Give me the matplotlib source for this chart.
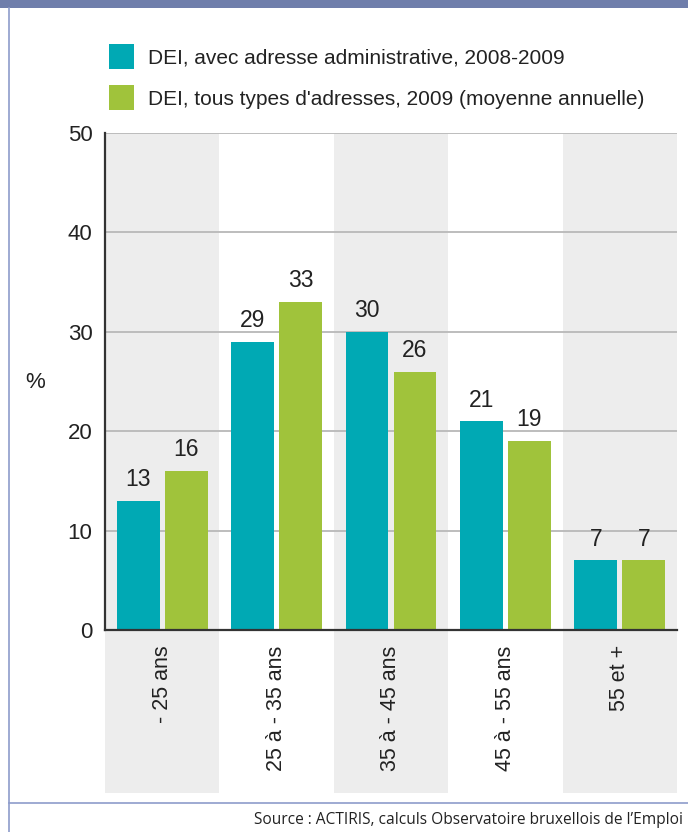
import matplotlib.pyplot as plt
from matplotlib.patches import Rectangle
from matplotlib.lines import Line2D
import numpy as np

# data
age_groups = ['- 25 ans', '25 à - 35 ans', '35 à - 45 ans', '45 à - 55 ans', '55 et +']
dei_admin = [13, 29, 30, 21, 7]
dei_all = [16, 33, 26, 19, 7]
series_labels = ['DEI, avec adresse administrative, 2008-2009',
                 "DEI, tous types d'adresses, 2009 (moyenne annuelle)"]

teal = '#00a9b4'
green = '#a0c33b'
band_grey = '#ededed'
frame_blue = '#8d9ccb'
ink = '#222222'

plt.rcParams['font.family'] = ['Liberation Sans', 'DejaVu Sans']

fig = plt.figure(figsize=(6.88, 8.32), dpi=100)
ax = fig.add_axes([105 / 688, 1 - 630 / 832, 572 / 688, 497 / 832])

x = np.arange(len(age_groups))
w = 0.375
off = 0.21
b1 = ax.bar(x - off, dei_admin, w, color=teal, zorder=3)
b2 = ax.bar(x + off, dei_all, w, color=green, zorder=3)

for bars, vals in ((b1, dei_admin), (b2, dei_all)):
    for r, v in zip(bars, vals):
        ax.annotate(str(v), (r.get_x() + r.get_width() / 2, v),
                    xytext=(0, 7), textcoords='offset points',
                    ha='center', va='bottom', fontsize=16.5, color=ink)

# alternating grey bands, running below the axis behind the labels
for i in range(0, len(age_groups), 2):
    ax.add_patch(Rectangle((i - 0.5, -16.4), 1.0, 66.4, facecolor=band_grey,
                           edgecolor='none', zorder=0, clip_on=False))

ax.set_xlim(-0.5, len(age_groups) - 0.5)
ax.set_ylim(0, 50)
ax.set_yticks(range(0, 51, 10))
ax.yaxis.grid(True, color='#b8b8b8', linewidth=1.3, zorder=1)
ax.set_axisbelow(True)
ax.set_facecolor('none')

ax.set_xticks(x)
ax.set_xticklabels(age_groups, rotation=90, fontsize=15.5, color=ink)
ax.tick_params(axis='x', length=0, pad=11)
ax.tick_params(axis='y', length=0, pad=9, labelsize=16, labelcolor=ink)

for s in ('top', 'right'):
    ax.spines[s].set_visible(False)
for s in ('left', 'bottom'):
    ax.spines[s].set_color('#333333')
    ax.spines[s].set_linewidth(1.6)
    ax.spines[s].set_zorder(4)

fig.text(35 / 688, 1 - 383 / 832, '%', fontsize=16, ha='center', va='center',
         color=ink)

ax.legend([b1, b2], series_labels, loc='upper left',
          bbox_to_anchor=(109 / 688, 1 - 44 / 832), bbox_transform=fig.transFigure,
          frameon=False, fontsize=15, handlelength=1.2, handleheight=1.45,
          handletextpad=0.65, labelspacing=0.8, borderaxespad=0, borderpad=0,
          labelcolor=ink)

# frame pieces: title bar remnant, left rule, bottom rule
fig.patches.append(Rectangle((0, 1 - 8 / 832), 1, 8 / 832, transform=fig.transFigure,
                             facecolor='#6f7eab', edgecolor='none'))
fig.lines.append(Line2D([8.5 / 688, 8.5 / 688], [0, 1 - 8 / 832],
                        transform=fig.transFigure, color=frame_blue, linewidth=1.2))
fig.lines.append(Line2D([8.5 / 688, 1], [1 - 803 / 832, 1 - 803 / 832],
                        transform=fig.transFigure, color=frame_blue, linewidth=1.2))

fig.text(683 / 688, 1 - 820 / 832,
         "Source : ACTIRIS, calculs Observatoire bruxellois de l\u2019Emploi",
         ha='right', va='center', fontsize=11.2, family=['Open Sans', 'DejaVu Sans'],
         color=ink)

fig.savefig('out.png', dpi=100)
